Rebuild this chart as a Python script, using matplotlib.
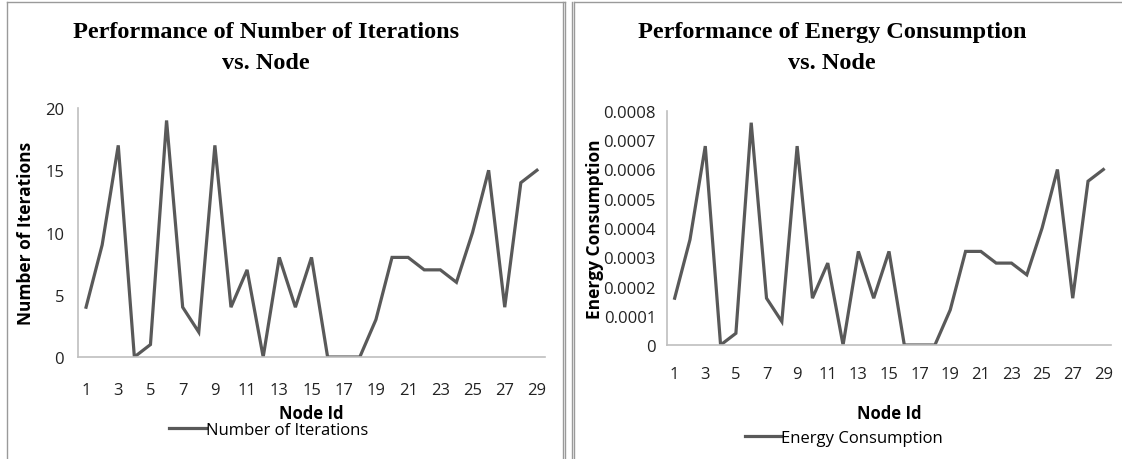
import numpy as np
import matplotlib
matplotlib.use('Agg')
import matplotlib.pyplot as plt
from matplotlib.lines import Line2D
from matplotlib.ticker import FuncFormatter

# node ids and measured values per node
node_ids = list(range(1, 30))
iterations = [4, 9, 17, 0, 1, 19, 4, 2, 17, 4, 7, 0, 8, 4, 8,
              0, 0, 0, 3, 8, 8, 7, 7, 6, 10, 15, 4, 14, 15]
energy = [0.00016, 0.00036, 0.00068, 0.0, 0.00004, 0.00076, 0.00016, 0.00008,
          0.00068, 0.00016, 0.00028, 0.0, 0.00032, 0.00016, 0.00032, 0.0, 0.0,
          0.0, 0.00012, 0.00032, 0.00032, 0.00028, 0.00028, 0.00024, 0.0004,
          0.0006, 0.00016, 0.00056, 0.0006]
xtick_labels = list(range(1, 30, 2))
iter_ticks = [0, 5, 10, 15, 20]
energy_ticks = [0, 0.0001, 0.0002, 0.0003, 0.0004, 0.0005, 0.0006, 0.0007, 0.0008]

W, H = 1122, 460
LINE = '#595959'
AXIS = '#bfbfbf'
TICK_FONT = ['Open Sans', 'DejaVu Sans']
TITLE_FONT = ['Liberation Serif', 'DejaVu Serif']

fig = plt.figure(figsize=(W / 100, H / 100), dpi=100)


def px_axes(x0, y_top, x1, y_bot):
    return fig.add_axes([x0 / W, (H - y_bot) / H, (x1 - x0) / W, (y_bot - y_top) / H])


def frame_line(x, y):
    fig.add_artist(Line2D([v / W for v in x], [1 - v / H for v in y],
                          color='#9a9a9a', lw=1.0, transform=fig.transFigure))


def style(ax, yticks, ylim, fmt):
    ax.set_xlim(0.5, 29.5)
    ax.set_ylim(*ylim)
    ax.set_xticks(xtick_labels)
    ax.set_yticks(yticks)
    ax.yaxis.set_major_formatter(FuncFormatter(fmt))
    for side in ('top', 'right'):
        ax.spines[side].set_visible(False)
    for side in ('left', 'bottom'):
        ax.spines[side].set_color(AXIS)
        ax.spines[side].set_linewidth(1.2)
    ax.tick_params(length=0, labelsize=12, colors='#222222')
    for lab in ax.get_xticklabels() + ax.get_yticklabels():
        lab.set_family(TICK_FONT)


# left panel: iterations
ax1 = px_axes(78, 109, 545, 358)
ax1.plot(node_ids, iterations, color=LINE, lw=2.3, label='Number of Iterations',
         solid_joinstyle='miter')
style(ax1, iter_ticks, (0, 20), lambda v, p: '%d' % v)
ax1.tick_params(axis='x', pad=18)
ax1.tick_params(axis='y', pad=10)
ax1.set_xlabel('Node Id', fontsize=12, fontweight='bold', family=TICK_FONT, labelpad=4)
ax1.set_ylabel('Number of Iterations', fontsize=12.5, fontweight='bold', family=TICK_FONT)
ax1.yaxis.set_label_coords(-0.093, 0.5)
ax1.legend(loc='upper center', bbox_to_anchor=(0.408, -0.2), frameon=False,
           handlelength=2.2, handletextpad=0.0, prop={'family': TICK_FONT, 'size': 12})

# right panel: energy
ax2 = px_axes(667, 112, 1111, 346)
ax2.plot(node_ids, energy, color=LINE, lw=2.3, label='Energy Consumption',
         solid_joinstyle='miter')
style(ax2, energy_ticks, (0, 0.0008), lambda v, p: '0' if v == 0 else '%.4f' % v)
ax2.tick_params(axis='x', pad=15)
ax2.tick_params(axis='y', pad=8)
ax2.set_xlabel('Node Id', fontsize=12, fontweight='bold', family=TICK_FONT, labelpad=16)
ax2.set_ylabel('Energy Consumption', fontsize=12.5, fontweight='bold', family=TICK_FONT)
ax2.yaxis.set_label_coords(-0.141, 0.5)
ax2.legend(loc='upper center', bbox_to_anchor=(0.398, -0.3), frameon=False,
           handlelength=2.2, handletextpad=0.0, prop={'family': TICK_FONT, 'size': 12})

# titles
fig.text(266 / W, 1 - 48 / H, 'Performance of Number of Iterations\nvs. Node',
         ha='center', va='center', fontsize=17.5, fontweight='bold', family=TITLE_FONT,
         linespacing=1.6)
fig.text(832 / W, 1 - 48 / H, 'Performance of Energy Consumption\nvs. Node',
         ha='center', va='center', fontsize=17.5, fontweight='bold', family=TITLE_FONT,
         linespacing=1.6)

# panel frames
frame_line([7, 7], [3, 460])
frame_line([7, 565], [3, 3])
frame_line([563, 563], [3, 460])
frame_line([565, 565], [3, 460])
frame_line([572, 572], [3, 460])
frame_line([574, 574], [3, 460])
frame_line([574, 1122], [3, 3])

fig.savefig('out.png', dpi=100)
